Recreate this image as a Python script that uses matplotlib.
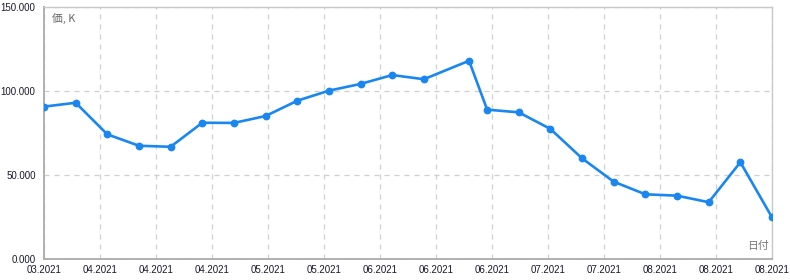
import matplotlib
matplotlib.use("Agg")
import matplotlib.pyplot as plt
import matplotlib.dates as mdates
import numpy as np
import datetime as dt

# weekly prices, one extra point at the June peak
dates = ["2021-03-22", "2021-03-29", "2021-04-05", "2021-04-12", "2021-04-19",
         "2021-04-26", "2021-05-03", "2021-05-10", "2021-05-17", "2021-05-24",
         "2021-05-31", "2021-06-07", "2021-06-14", "2021-06-24", "2021-06-28",
         "2021-07-05", "2021-07-12", "2021-07-19", "2021-07-26", "2021-08-02",
         "2021-08-09", "2021-08-16", "2021-08-23", "2021-08-30"]
prices = [90.7, 93.0, 74.2, 67.4, 66.8, 81.1, 81.0, 85.1, 94.2, 100.2,
          104.2, 109.5, 107.0, 118.0, 88.9, 87.3, 77.4, 59.9, 46.0, 38.5,
          37.7, 33.8, 57.6, 24.8]
y_ticks = [0, 50, 100, 150]

x = [dt.datetime.strptime(d, "%Y-%m-%d") for d in dates]

plt.rcParams["font.family"] = ["Liberation Sans", "DejaVu Sans"]

fig = plt.figure(figsize=(7.9, 2.8), dpi=100)
ax = fig.add_axes([44/790, 21/280, 728/790, 252/280])

ax.plot(x, prices, color="#1a87f0", linewidth=1.9, marker="o", markersize=4.6,
        zorder=3)

xmin, xmax = mdates.date2num(x[0]), mdates.date2num(x[-1])
ax.set_xlim(xmin, xmax)
ax.set_ylim(0, 150)
ax.set_xticks(np.linspace(xmin, xmax, 14))
ax.xaxis.set_major_formatter(mdates.DateFormatter("%m.%Y"))
ax.set_yticks(y_ticks)
ax.set_yticklabels(["%.3f" % v for v in y_ticks])

ax.grid(True, color="#cfcfcf", linestyle=(0, (4, 4)), linewidth=0.9)
ax.tick_params(length=0, labelsize=7, labelcolor="#1a1a2e", pad=4)
ax.tick_params(axis="y", pad=6)

for side in ["left", "bottom"]:
    ax.spines[side].set_color("#b0b0b0")
    ax.spines[side].set_linewidth(1.4)
for side in ["top", "right"]:
    ax.spines[side].set_color("#c8c8c8")
    ax.spines[side].set_linewidth(1.0)

cjk = ["Noto Sans CJK JP", "DejaVu Sans"]
ax.text(0.011, 0.975, "価, K", transform=ax.transAxes, ha="left", va="top",
        fontsize=7.8, color="#666666", family=cjk)
ax.text(0.995, 0.03, "日付", transform=ax.transAxes, ha="right", va="bottom",
        fontsize=7.8, color="#777777", family=cjk)

plt.savefig("out.png", dpi=100)
